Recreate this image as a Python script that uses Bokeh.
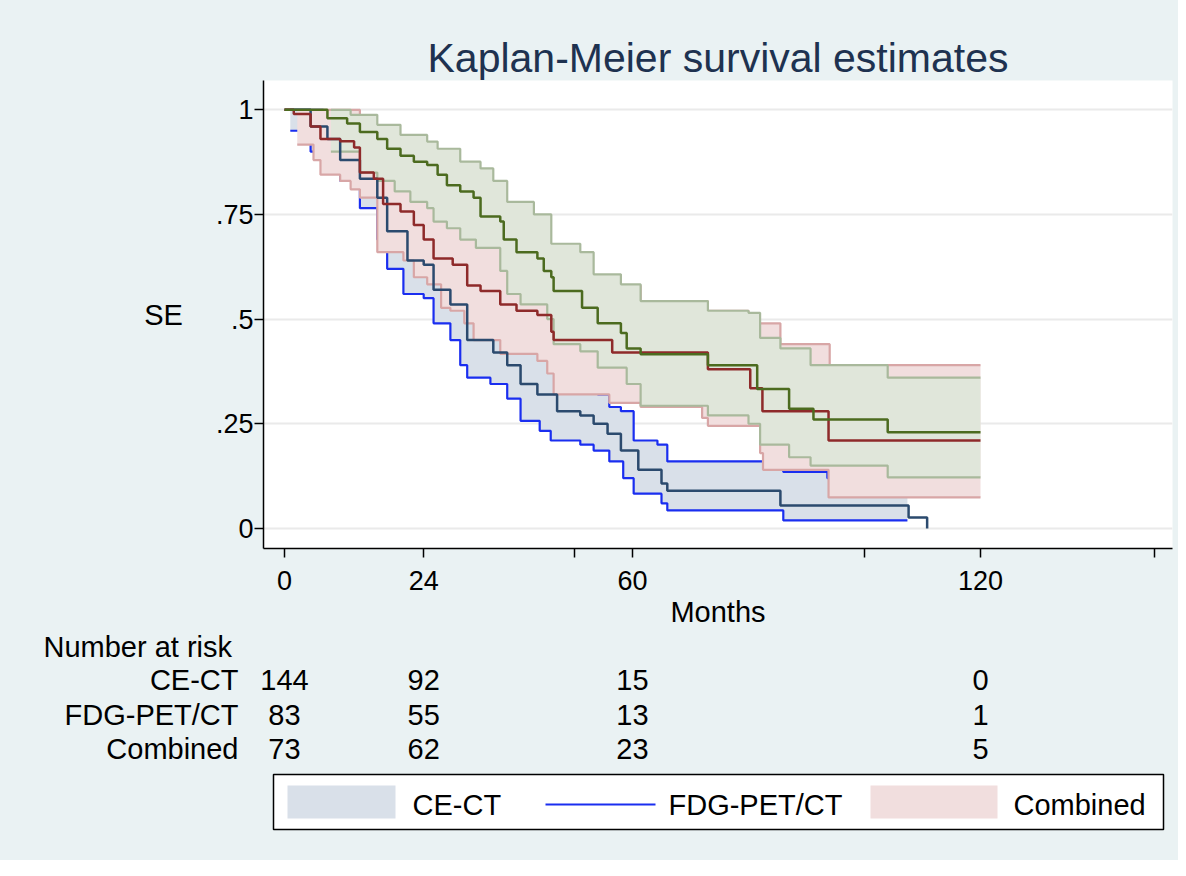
import numpy as np
from bokeh.plotting import figure
from bokeh.layouts import column
from bokeh.models import Range1d, FixedTicker
from bokeh.core.properties import value
from bokeh.embed import file_html
from bokeh.resources import INLINE

# ---- data (months, survival) ----
ce_t = [0, 4.5, 7.4, 9.6, 13, 16, 17.7, 21.2, 24, 25.7, 28.6, 31.5, 36, 38.4, 40.7, 43.6, 47, 51, 53.3, 55.7, 58, 61, 65, 66, 84.3, 85.5, 107.6, 110.8]
ce_s = [1, .96, .93, .88, .835, .79, .71, .64, .63, .57, .535, .45, .42, .39, .345, .32, .28, .27, .25, .226, .186, .14, .107, .09, .09, .055, .026, 0]
ce_lo_t = [1, 4.5, 7.4, 9.6, 13, 16, 17.7, 20.5, 24, 25.7, 28.6, 30.3, 31.5, 35.5, 38.4, 40.7, 44, 45.9, 51, 53.3, 56, 58.4, 60.2, 65, 66, 86, 107.4]
ce_lo_s = [.95, .9, .86, .83, .765, .69, .62, .56, .55, .49, .45, .39, .36, .345, .31, .257, .233, .21, .2, .186, .16, .12, .083, .06, .043, .019, .019]
ce_hi_t = [1, 4.5, 6.7, 9.6, 13, 16, 17.7, 21.2, 24, 25.7, 28.6, 31.5, 36, 38.4, 40.7, 44, 47, 51, 54, 56, 58, 60.2, 64.3, 66, 86, 93.6, 107.4]
ce_hi_s = [1, 1, .97, .93, .89, .86, .79, .73, .72, .67, .63, .55, .52, .49, .45, .42, .38, .36, .32, .29, .28, .21, .2, .16, .135, .12, .12]

fdg_t = [0, 1.6, 4.5, 6.2, 9.6, 12, 13, 15.4, 17, 20, 22.3, 24, 25.7, 29, 31.5, 33.8, 37.2, 40, 43.6, 46, 46.4, 56.5, 73, 80.3, 82.4, 93.8, 120]
fdg_s = [1, .99, .96, .93, .925, .91, .85, .835, .775, .757, .725, .69, .645, .63, .58, .567, .535, .52, .51, .47, .45, .42, .38, .335, .28, .21, .21]
fdg_lo_t = [2.2, 5, 6.2, 9.6, 11.4, 13, 16, 20.5, 22.3, 24.6, 27, 28.6, 31, 32.6, 37.2, 43.6, 45.3, 46.4, 56, 61.4, 72, 73, 82, 82.5, 93.8, 120]
fdg_lo_s = [.917, .88, .845, .83, .81, .79, .66, .64, .6, .583, .527, .52, .49, .45, .417, .4, .37, .32, .3, .29, .264, .245, .18, .14, .074, .074]
fdg_hi_t = [0, 10, 13, 16, 18, 22, 24, 26, 29, 32, 34, 37, 40, 44, 46.4, 56, 61.4, 73, 80, 85.5, 94, 120]
fdg_hi_s = [1, 1, .95, .92, .88, .85, .82, .78, .76, .72, .70, .67, .66, .65, .6, .58, .543, .52, .49, .44, .39, .39]

comb_t = [0, 7.4, 10.8, 13, 16, 17.7, 20, 22.3, 24.6, 26.4, 28, 30.3, 32.6, 33.8, 37.2, 37.8, 40, 43.6, 44.7, 46, 46.4, 51.3, 54, 58, 59, 61.4, 73, 81.5, 87, 91.2, 104, 120]
comb_s = [1, .98, .967, .947, .93, .907, .89, .876, .868, .845, .82, .805, .79, .745, .733, .69, .66, .645, .615, .6, .567, .527, .49, .467, .43, .416, .39, .333, .286, .26, .23, .23]
comb_lo_t = [8, 13, 16, 19, 21.7, 24.6, 25.7, 28, 30.3, 33, 37.2, 38.4, 40.7, 45.3, 46.4, 51, 54, 59, 61.4, 73, 80, 82, 87, 90.7, 104, 120]
comb_lo_s = [.9, .85, .83, .805, .78, .765, .733, .717, .69, .67, .615, .56, .535, .5, .44, .423, .384, .345, .293, .27, .25, .2, .17, .15, .122, .122]
comb_hi_t = [8, 11.4, 16, 20, 24.6, 26.4, 30.3, 33.8, 36, 38.4, 43, 46, 51, 53.3, 58, 61.4, 73, 80, 82, 85.5, 90.7, 104, 120]
comb_hi_s = [1, .988, .964, .94, .924, .907, .876, .86, .83, .78, .75, .68, .66, .607, .583, .543, .52, .515, .455, .43, .39, .36, .36]

risk_times = [0, 24, 60, 120]
risk_groups = ["CE-CT", "FDG-PET/CT", "Combined"]
risk_counts = [[144, 92, 15, 0], [83, 55, 13, 1], [73, 62, 23, 5]]

x_ticks = [0, 24, 50, 60, 100, 120, 150]
x_labels = {50: "", 100: "", 150: ""}
y_ticks = [0, 0.25, 0.5, 0.75, 1]
y_labels = {0: "0", 0.25: ".25", 0.5: ".5", 0.75: ".75", 1: "1"}

BG = "#EAF2F3"
FONT = "Liberation Sans"
FS = "29px"


# image pixel -> months (0 at px 284, 5.8 px per month)
def m_of(px):
    return (px - 284) / 5.8


def step_xy(t, s):
    xs, ys = [t[0]], [s[0]]
    for i in range(1, len(t)):
        xs += [t[i], t[i]]
        ys += [s[i - 1], s[i]]
    return xs, ys


def band_xy(lt, ls, ht, hs):
    grid = sorted(set(lt) | set(ht))
    grid = [g for g in grid if g >= max(lt[0], ht[0])]
    lo = [ls[np.searchsorted(lt, g, side="right") - 1] for g in grid]
    hi = [hs[np.searchsorted(ht, g, side="right") - 1] for g in grid]
    xs, y1 = step_xy(grid, lo)
    _, y2 = step_xy(grid, hi)
    return xs, y1, y2


p = figure(width=1178, height=630, output_backend="svg", toolbar_location=None,
           x_range=Range1d(m_of(263), m_of(1172)), y_range=Range1d(-0.048, 1.07),
           min_border_left=263, min_border_right=6, min_border_top=80, min_border_bottom=82,
           title="Kaplan-Meier survival estimates", x_axis_label="Months", y_axis_label="SE")
p.border_fill_color = BG
p.background_fill_color = "white"
p.outline_line_color = None
p.title.align = "center"
p.title.text_font = FONT
p.title.text_font_size = "41px"
p.title.text_font_style = "normal"
p.title.text_color = "#1E3250"
p.title.standoff = 0

for ax in (p.xaxis, p.yaxis):
    ax.axis_line_color = "black"
    ax.axis_line_width = 1.5
    ax.major_tick_line_color = "black"
    ax.major_tick_line_width = 1.5
    ax.major_tick_out = 9
    ax.major_tick_in = 0
    ax.minor_tick_line_color = None
    ax.major_label_text_font = FONT
    ax.major_label_text_font_size = "27px"
    ax.major_label_text_color = "black"
    ax.axis_label_text_font = FONT
    ax.axis_label_text_font_size = FS
    ax.axis_label_text_font_style = "normal"
    ax.axis_label_text_color = "black"
p.xaxis.ticker = FixedTicker(ticks=x_ticks)
p.xaxis.major_label_overrides = x_labels
p.xaxis.major_label_standoff = 13
p.xaxis.axis_label_standoff = 3
p.yaxis.ticker = FixedTicker(ticks=y_ticks)
p.yaxis.major_label_overrides = y_labels
p.yaxis.major_label_orientation = "horizontal"
p.yaxis.major_label_standoff = 1
p.yaxis.axis_label_orientation = "horizontal"
p.yaxis.axis_label_standoff = 30
p.xgrid.grid_line_color = None
p.ygrid.grid_line_color = "#EAEAEA"
p.ygrid.grid_line_width = 2

groups = [
    (ce_lo_t, ce_lo_s, ce_hi_t, ce_hi_s, "#D9E0E9", "#1A2EF0"),
    (fdg_lo_t, fdg_lo_s, fdg_hi_t, fdg_hi_s, "#F1DEDE", "#D8A6A6"),
    (comb_lo_t, comb_lo_s, comb_hi_t, comb_hi_s, "#E0E6DA", "#A9B99C"),
]
for lt, ls, ht, hs, fill, lc in groups:
    bx, by1, by2 = band_xy(lt, ls, ht, hs)
    p.varea(x=bx, y1=by1, y2=by2, fill_color=fill)
    p.step(lt, ls, mode="after", line_color=lc, line_width=2.2)
    p.step(ht, hs, mode="after", line_color=lc, line_width=2.2)

for t, s, c in [(ce_t, ce_s, "#2B4A6E"), (fdg_t, fdg_s, "#8E2A2A"), (comb_t, comb_s, "#4C6B1F")]:
    p.step(t, s, mode="after", line_color=c, line_width=2.5)

# ---- risk table and legend: full-width frame, same months scale ----
q = figure(width=1178, height=230, output_backend="svg", toolbar_location=None,
           x_range=Range1d(m_of(0), m_of(1178)), y_range=Range1d(868, 638),
           min_border=0, frame_align=False)
q.border_fill_color = BG
q.background_fill_color = BG
q.outline_line_color = None
q.axis.visible = False
q.grid.visible = False

tf = dict(text_font=value(FONT), text_font_size=FS, text_color="black", text_baseline="middle")
q.text(x=[m_of(43)], y=[654], text=["Number at risk"], text_align="left", **tf)
rows_y = [687, 722, 756]
q.text(x=[m_of(238)] * 3, y=rows_y, text=risk_groups, text_align="right", **tf)
for yy, counts in zip(rows_y, risk_counts):
    q.text(x=risk_times, y=[yy] * len(risk_times), text=[str(c) for c in counts], text_align="center", **tf)

q.quad(left=m_of(273), right=m_of(1163), top=782, bottom=837, fill_color="white", line_color="black", line_width=1.5)
q.quad(left=m_of(287), right=m_of(395), top=793, bottom=826, fill_color="#D9E0E9", line_color=None)
q.quad(left=m_of(870), right=m_of(997), top=793, bottom=826, fill_color="#F1DEDE", line_color=None)
q.line(x=[m_of(545), m_of(655)], y=[812, 812], line_color="#1A2EF0", line_width=2)
q.text(x=[m_of(412), m_of(668), m_of(1013)], y=[812] * 3, text=["CE-CT", "FDG-PET/CT", "Combined"], text_align="left", **tf)

page = column(p, q, spacing=0, styles={"background-color": BG})
open("out.html", "w").write(file_html(page, INLINE))
